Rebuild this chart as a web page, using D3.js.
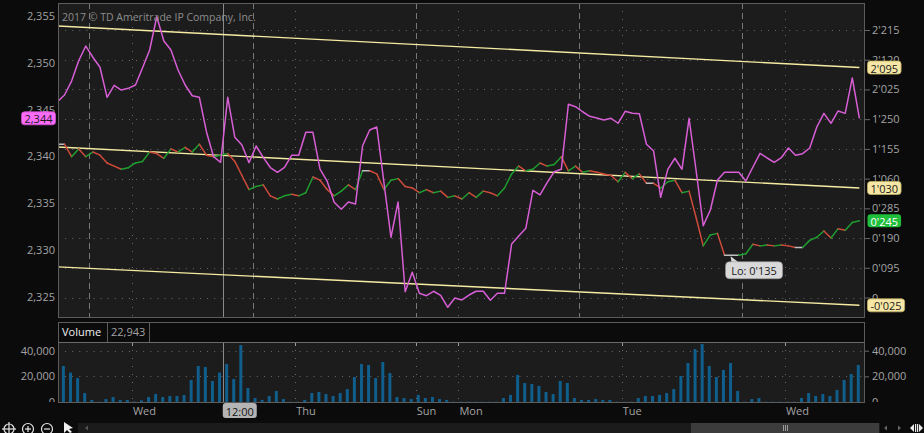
<!DOCTYPE html>
<html><head><meta charset="utf-8">
<script src="https://cdn.jsdelivr.net/npm/d3@7"></script>
<style>
html,body{margin:0;padding:0;background:#0b0b0b;overflow:hidden}
svg{display:block;font-family:"Open Sans","Noto Sans",sans-serif}
</style></head><body>
<svg id="c" width="924" height="433"></svg>
<script>
// ---------------- DATA ----------------
// magenta comparison symbol (left axis)
const compareValues = [2345.83,2346.55,2348.04,2350.21,2351.78,2350.58,2349.51,2346.30,2347.59,2347.08,
2347.26,2347.62,2349.47,2351.36,2354.91,2352.32,2351.36,2349.22,2347.62,2346.47,
2346.30,2342.63,2339.96,2339.36,2346.30,2342.03,2341.21,2339.32,2341.10,2339.89,
2338.80,2338.29,2338.82,2340.11,2340.11,2342.56,2342.56,2338.64,2337.36,2335.09,
2334.34,2335.12,2334.90,2341.13,2342.81,2343.13,2337.25,2331.35,2335.12,2325.53,
2327.61,2325.36,2325.11,2325.58,2325.15,2323.87,2324.86,2324.65,2325.18,2325.58,
2325.58,2324.62,2325.36,2325.36,2330.63,2331.49,2332.31,2336.37,2335.87,2337.18,
2338.35,2338.61,2345.56,2345.30,2344.76,2344.27,2344.09,2343.88,2344.06,2343.53,
2344.81,2344.59,2344.55,2341.28,2340.57,2335.62,2338.61,2339.79,2338.61,2344.06,
2338.43,2332.59,2334.26,2337.47,2338.29,2338.29,2338.29,2337.36,2338.86,2340.32,
2339.82,2339.36,2339.85,2340.89,2340.11,2340.28,2340.89,2343.13,2344.59,2343.53,
2344.84,2344.59,2348.37,2344.06];
// main price, in 32nds (right axis)
const priceValues = [49,49,45,47.5,45,46.5,45.5,43,42,41,
41.5,43,43.5,46.5,46,44.5,47.5,46.5,48,46.5,
49,45.5,45,45.5,46,43.5,39,34.5,35.5,36,
32.5,31.5,32.5,33,32.5,33.5,38.5,37.5,34.5,32.5,
34,36,34.5,40.5,40.5,39.5,34.5,37.5,38,35.5,
35,33.5,34.5,33.5,34,32,32.5,31.5,33.5,32,
34,33.5,32.5,35,39.5,42,40.5,41,43,42,
42.5,45,40.5,42,40,40.5,40,39.5,39,37,
40,38,39.5,36.5,36.5,35,37,37.5,33.5,34,
25.5,16.5,20,20.5,13.5,13.5,13.5,14,17,16.5,
16.75,16.5,16.75,16.5,16,16,18.25,19.25,21.25,19,
22,21.5,24,24.5];
// volume per bar
const volumeValues = [25000,28100,22900,18700,7000,1600,200,2300,3900,1600,
1600,300,1300,3900,6200,3900,4700,4700,5500,17200,
28100,27300,16400,22943,29600,17900,44400,10900,3100,1600,
4700,8600,2300,200,200,1600,7000,7800,6200,4700,
7000,10100,19500,29600,28900,18700,31200,22600,3900,3100,
2300,5500,3100,3900,2300,1600,200,200,200,200,
200,200,200,3100,5500,21100,14800,14000,12500,7800,
6200,16400,14800,3100,1600,1600,2300,1600,1600,200,
200,200,3100,4700,4700,5500,7000,10100,20300,30400,
41300,45200,28100,19500,25000,30400,8600,200,2300,3100,
200,200,200,200,200,3100,7000,4700,6200,4700,
9400,17200,21800,28900];
// regression channel (32nds): [start, end]
const channelUpper = [86.8, 73.5];
const channelMiddle = [48.1, 35.0];
const channelLower = [9.8, -2.5];
// ticks
const leftTicks = [2325,2330,2335,2340,2345,2350,2355];
const rightTicks32 = [0,9.5,19,28.5,38,47.5,57,66.5,76,85.5];
const volTicks = [0,20000,40000];
// time axis (bar index positions)
const dayLabels = ["Wed","Thu","Sun","Mon","Tue","Wed"];
const dayLabelPos = [10.5,33.5,50.5,56.5,79.5,102.5];
const sessionStarts = [4.5,27.5,50.5,73.5,96.5];
const midnights = [10.5,33.5,56.5,79.5,102.5];
const cursorIndex = 23;
const cursorLabel = "12:00";

// ---------------- CHART ----------------
const W=924,H=433;
const P={l:58,r:865,t:3,b:318};
const V={ht:322,t:342,b:402};
const svg=d3.select("#c");
const N=priceValues.length;
const idx=d3.range(N);
const FONT='"Open Sans","Noto Sans",sans-serif';

const x=d3.scaleLinear().domain([0,N-1]).range([57.4,859.4]);
const yL=d3.scaleLinear().domain([2325,2355]).range([296.7,15.9]);
const yR=d3.scaleLinear().domain([0,85.5]).range([297.5,30]);
const yV=d3.scaleLinear().domain([0,40000]).range([402,350.7]);

function fmt32(v){
  if(Math.abs(v)<1e-9) return "0";
  const s=v<0?"-":""; const a=Math.abs(v);
  const whole=Math.floor(a/32+1e-9); const rem=a-whole*32;
  return s+whole+"'"+String(Math.round(rem*10)).padStart(3,"0");
}
const fmtC=d3.format(",");

svg.append("rect").attr("width",W).attr("height",H).attr("fill","#0b0b0b");
const defs=svg.append("defs");
defs.append("clipPath").attr("id","cm").append("rect").attr("x",P.l).attr("y",P.t).attr("width",P.r-P.l).attr("height",P.b-P.t);
defs.append("clipPath").attr("id","cv").append("rect").attr("x",P.l).attr("y",V.t).attr("width",P.r-P.l).attr("height",V.b-V.t);

// panels
svg.append("rect").attr("x",P.l).attr("y",P.t).attr("width",P.r-P.l).attr("height",P.b-P.t).attr("fill","#1c1c1c");
svg.append("rect").attr("x",P.l).attr("y",V.t).attr("width",P.r-P.l).attr("height",V.b-V.t).attr("fill","#1c1c1c");

const gm=svg.append("g").attr("clip-path","url(#cm)");
// grid main
gm.selectAll(".hg").data(rightTicks32).join("line")
  .attr("x1",P.l).attr("x2",P.r).attr("y1",d=>Math.round(yR(d))+0.5).attr("y2",d=>Math.round(yR(d))+0.5)
  .attr("stroke","#6a6a6a").attr("stroke-dasharray","1,6.1");
gm.selectAll(".vd").data(sessionStarts).join("line")
  .attr("x1",d=>Math.round(x(d))+0.5).attr("x2",d=>Math.round(x(d))+0.5).attr("y1",P.t).attr("y2",P.b)
  .attr("stroke","#777").attr("stroke-dasharray","6,4");
gm.selectAll(".vm").data(midnights).join("line")
  .attr("x1",d=>Math.round(x(d))+0.5).attr("x2",d=>Math.round(x(d))+0.5).attr("y1",P.t).attr("y2",P.b)
  .attr("stroke","#6a6a6a").attr("stroke-dasharray","1,7");
// cursor
gm.append("line").attr("x1",Math.round(x(cursorIndex+0.3))+0.5).attr("x2",Math.round(x(cursorIndex+0.3))+0.5)
  .attr("y1",P.t).attr("y2",P.b).attr("stroke","#8a8a8a");

// copyright
svg.append("text").attr("x",62).attr("y",21).attr("fill","#8c8c8c").attr("font-size",10.5)
  .text("2017 © TD Ameritrade IP Company, Inc.");

// channel
const chan=[channelUpper,channelMiddle,channelLower];
gm.selectAll(".ch").data(chan).join("line")
  .attr("x1",x(0)).attr("x2",x(N-1)).attr("y1",d=>yR(d[0])).attr("y2",d=>yR(d[1]))
  .attr("stroke","#f6eba2").attr("stroke-width",1.4);

// price segments
const segs=idx.slice(1).map(i=>({a:i-1,b:i}));
gm.selectAll(".ps").data(segs).join("line")
  .attr("x1",d=>x(d.a)).attr("x2",d=>x(d.b))
  .attr("y1",d=>yR(priceValues[d.a])).attr("y2",d=>yR(priceValues[d.b]))
  .attr("stroke",d=>priceValues[d.b]>priceValues[d.a]?"#1f9e30":(priceValues[d.b]<priceValues[d.a]?"#cf4a3b":"#bdbdbd"))
  .attr("stroke-width",1.5).attr("stroke-linecap","round");

// compare line
gm.append("path").datum(idx)
  .attr("d",d3.line().x(i=>x(i)).y(i=>yL(compareValues[i])))
  .attr("fill","none").attr("stroke","#d75ed5").attr("stroke-width",1.5).attr("stroke-linejoin","round");

// borders
svg.append("rect").attr("x",P.l+0.5).attr("y",P.t+0.5).attr("width",P.r-P.l-1).attr("height",P.b-P.t-1)
  .attr("fill","none").attr("stroke","#5c5c5c");

// axes styling helper
function styleAxis(g){
  g.select(".domain").remove();
  g.selectAll("text").attr("fill","#a3a3a3").attr("font-size",11).attr("font-family",FONT);
  g.selectAll("line").attr("stroke","#6a6a6a");
}
svg.append("g").attr("transform",`translate(${P.l},0)`)
  .call(d3.axisLeft(yL).tickValues(leftTicks).tickFormat(fmtC).tickSize(0).tickPadding(3)).call(styleAxis);
svg.append("g").attr("transform",`translate(${P.r},0)`)
  .call(d3.axisRight(yR).tickValues(rightTicks32).tickFormat(fmt32).tickSize(5).tickPadding(2)).call(styleAxis);

// badges
function badge(xl,yc,txt,fill,tc,stroke,anchorRight){
  const g=svg.append("g");
  const r=g.append("rect");
  const t=g.append("text").attr("font-size",11).attr("fill",tc).attr("dominant-baseline","central").text(txt);
  const w=t.node().getComputedTextLength()+6;
  const x0=anchorRight?xl-w:xl;
  r.attr("x",x0).attr("y",yc-6.5).attr("width",w).attr("height",13).attr("rx",3)
    .attr("fill",fill).attr("stroke",stroke||"none").attr("stroke-width",0.8);
  t.attr("x",x0+3).attr("y",yc+0.5);
}
badge(867.5,yR(channelUpper[1]),fmt32(channelUpper[1]),"#f6e7a6","#1a1a1a","#bfae62");
badge(867.5,yR(channelMiddle[1]),fmt32(channelMiddle[1]),"#f6e7a6","#1a1a1a","#bfae62");
badge(867.5,yR(channelLower[1]),fmt32(channelLower[1]),"#f6e7a6","#1a1a1a","#bfae62");
badge(867.5,yR(priceValues[N-1]),fmt32(priceValues[N-1]),"#1fbe3b","#ffffff",null);
badge(55.5,yL(compareValues[N-1]),fmtC(Math.round(compareValues[N-1])),"#fb6cfb","#1a1a1a","#c94fc9",true);

// Lo bubble
const lowI=d3.minIndex(priceValues);
const lx=x(lowI)+6, ly=yR(priceValues[lowI]);
const lg=svg.append("g");
lg.append("path").attr("d",`M${lx},${ly+1} L${lx+1},${ly+7} L${lx+8},${ly+7} Z`).attr("fill","#d9d9d9");
lg.append("rect").attr("x",lx-5).attr("y",ly+6.5).attr("width",57).attr("height",17).attr("rx",4)
  .attr("fill","#d9d9d9").attr("stroke","#9a9a9a").attr("stroke-width",0.6);
lg.append("text").attr("x",lx+23.5).attr("y",ly+15.5).attr("text-anchor","middle").attr("dominant-baseline","central")
  .attr("font-size",11).attr("fill","#1a1a1a").text("Lo: "+fmt32(priceValues[lowI]));

// ---------- volume ----------
svg.append("rect").attr("x",P.l+0.5).attr("y",V.ht+0.5).attr("width",P.r-P.l-1).attr("height",V.t-V.ht)
  .attr("fill","#0b0b0b").attr("stroke","#5c5c5c");
svg.append("line").attr("x1",107.5).attr("x2",107.5).attr("y1",V.ht).attr("y2",V.t).attr("stroke","#5c5c5c");
svg.append("line").attr("x1",149.5).attr("x2",149.5).attr("y1",V.ht).attr("y2",V.t).attr("stroke","#5c5c5c");
svg.append("text").attr("x",62).attr("y",336).attr("font-size",11).attr("fill","#f0f0f0").text("Volume");
svg.append("text").attr("x",111).attr("y",336).attr("font-size",11).attr("fill","#a3a3a3").text(fmtC(volumeValues[cursorIndex]));

const gv=svg.append("g").attr("clip-path","url(#cv)");
gv.selectAll(".vh").data(volTicks.slice(1)).join("line")
  .attr("x1",P.l).attr("x2",P.r).attr("y1",d=>Math.round(yV(d))+0.5).attr("y2",d=>Math.round(yV(d))+0.5)
  .attr("stroke","#6a6a6a").attr("stroke-dasharray","1,6.1");
gv.selectAll(".vv").data(dayLabelPos).join("line")
  .attr("x1",d=>Math.round(x(d))+0.5).attr("x2",d=>Math.round(x(d))+0.5).attr("y1",V.t).attr("y2",V.b)
  .attr("stroke","#6a6a6a").attr("stroke-dasharray","1,7");
gv.append("line").attr("x1",Math.round(x(cursorIndex+0.3))+0.5).attr("x2",Math.round(x(cursorIndex+0.3))+0.5)
  .attr("y1",V.t).attr("y2",V.b).attr("stroke","#8a8a8a");
gv.selectAll(".vb").data(idx).join("rect")
  .attr("x",i=>x(i)-2.6).attr("width",3)
  .attr("y",i=>yV(volumeValues[i])).attr("height",i=>yV(0)-yV(volumeValues[i]))
  .attr("fill","#0f5e8c");
svg.selectAll(".vt").data(dayLabelPos).join("line")
  .attr("x1",d=>Math.round(x(d))+0.5).attr("x2",d=>Math.round(x(d))+0.5).attr("y1",V.t).attr("y2",V.t+4)
  .attr("stroke","#9a9a9a");
svg.append("line").attr("x1",P.l).attr("x2",P.r).attr("y1",V.t+0.5).attr("y2",V.t+0.5).attr("stroke","#6a6a6a");
svg.append("line").attr("x1",P.l+0.5).attr("x2",P.l+0.5).attr("y1",V.t).attr("y2",V.b).attr("stroke","#5c5c5c");
svg.append("line").attr("x1",P.r-0.5).attr("x2",P.r-0.5).attr("y1",V.ht).attr("y2",V.b).attr("stroke","#5c5c5c");

svg.append("g").attr("transform",`translate(${P.l},0)`)
  .call(d3.axisLeft(yV).tickValues(volTicks).tickFormat(fmtC).tickSize(0).tickPadding(3)).call(styleAxis);
svg.append("g").attr("transform",`translate(${P.r},0)`)
  .call(d3.axisRight(yV).tickValues(volTicks).tickFormat(fmtC).tickSize(4).tickPadding(3)).call(styleAxis);

// bottom strip covers lower half of zero labels
svg.append("rect").attr("x",0).attr("y",V.b).attr("width",W).attr("height",20).attr("fill","#0b0b0b");
svg.append("line").attr("x1",P.l).attr("x2",P.r).attr("y1",V.b+0.5).attr("y2",V.b+0.5).attr("stroke","#5c5c5c");

// time labels
svg.selectAll(".tl").data(dayLabels).join("text")
  .attr("x",(d,i)=>x(dayLabelPos[i])+1).attr("y",415).attr("font-size",11).attr("fill","#a3a3a3").text(d=>d);
const cx=x(cursorIndex+0.3);
svg.append("rect").attr("x",cx).attr("y",403).attr("width",34).attr("height",15).attr("rx",3).attr("fill","#b4b4b4");
svg.append("text").attr("x",cx+17).attr("y",411).attr("text-anchor","middle").attr("dominant-baseline","central")
  .attr("font-size",11).attr("fill","#141414").text(cursorLabel);

// ---------- bottom toolbar ----------
svg.append("rect").attr("x",78).attr("y",423).attr("width",802).attr("height",10).attr("fill","#1b1b1b");
svg.append("path").attr("d","M85,428 L88,425.5 L88,430.5 Z").attr("fill","#555");
svg.append("rect").attr("x",691).attr("y",423).attr("width",188).attr("height",10).attr("fill","#3c3c3c");
[783,785,787].forEach(v=>svg.append("line").attr("x1",v+0.5).attr("x2",v+0.5).attr("y1",425).attr("y2",431).attr("stroke","#9a9a9a"));
svg.append("path").attr("d","M884,428 L887,425.5 L887,430.5 Z").attr("fill","#666");
svg.append("path").attr("d","M901,428 L898,425.5 L898,430.5 Z").attr("fill","#666");
svg.append("path").attr("d","M910,428 L914,424 L914,432 Z M923,428 L919,424 L919,432 Z").attr("fill","#e8e8e8");
svg.append("rect").attr("x",915).attr("y",424).attr("width",1.2).attr("height",8).attr("fill","#e8e8e8");
svg.append("rect").attr("x",917).attr("y",424).attr("width",1.2).attr("height",8).attr("fill","#e8e8e8");
// icons
const ic=svg.append("g").attr("stroke","#e6e6e6").attr("fill","none").attr("stroke-width",1.2);
ic.append("circle").attr("cx",9).attr("cy",429).attr("r",5);
ic.append("line").attr("x1",2).attr("x2",16).attr("y1",429).attr("y2",429);
ic.append("line").attr("x1",9).attr("x2",9).attr("y1",422).attr("y2",433);
ic.append("circle").attr("cx",28).attr("cy",429).attr("r",5.5);
ic.append("line").attr("x1",25).attr("x2",31).attr("y1",429).attr("y2",429);
ic.append("line").attr("x1",28).attr("x2",28).attr("y1",426).attr("y2",432);
ic.append("circle").attr("cx",47).attr("cy",429).attr("r",5.5);
ic.append("line").attr("x1",44).attr("x2",50).attr("y1",429).attr("y2",429);
svg.append("path").attr("d","M64,422 L64,433 L67,430 L70,433 L72,432 L69,429 L73,428 Z").attr("fill","#f0f0f0");
</script></body></html>
